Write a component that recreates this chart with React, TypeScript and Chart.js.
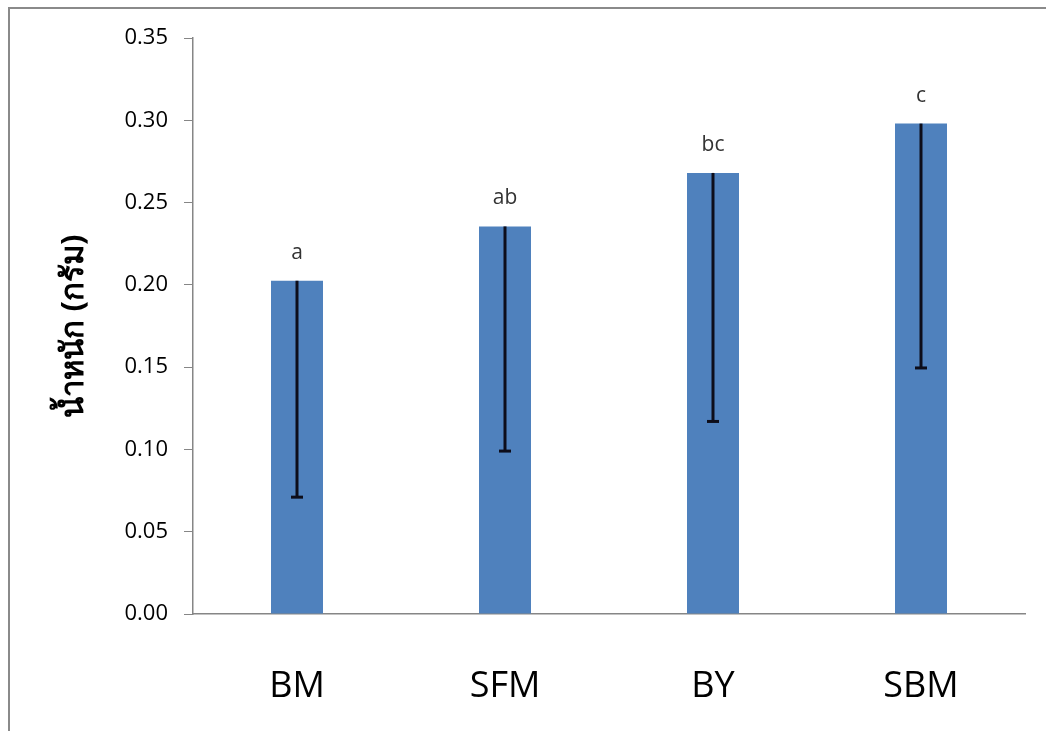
import React, { useEffect, useRef } from "react";
import { Chart, registerables } from "chart.js";

Chart.register(...registerables);

const categories = ["BM", "SFM", "BY", "SBM"];
const means = [0.2025, 0.2355, 0.268, 0.298];
const lowerBounds = [0.071, 0.099, 0.117, 0.1495];
const groupLetters = ["a", "ab", "bc", "c"];
const yTicks = [0, 0.05, 0.1, 0.15, 0.2, 0.25, 0.3, 0.35];
const yTitle = "น้ำหนัก (กรัม)";

const errorAndLetters = {
  id: "errorAndLetters",
  afterDatasetsDraw(chart: any) {
    const ctx = chart.ctx;
    const meta = chart.getDatasetMeta(0);
    const ys = chart.scales.y;
    ctx.save();
    meta.data.forEach((bar: any, i: number) => {
      const x = bar.x;
      const yTop = ys.getPixelForValue(means[i]);
      const yBot = ys.getPixelForValue(lowerBounds[i]);
      ctx.strokeStyle = "#0d0d1a";
      ctx.lineWidth = 3;
      ctx.beginPath();
      ctx.moveTo(x, yTop);
      ctx.lineTo(x, yBot);
      ctx.stroke();
      ctx.beginPath();
      ctx.moveTo(x - 6, yBot);
      ctx.lineTo(x + 6, yBot);
      ctx.stroke();
      ctx.fillStyle = "#333";
      ctx.font = "21px 'Open Sans'";
      ctx.textAlign = "center";
      ctx.textBaseline = "alphabetic";
      ctx.fillText(groupLetters[i], x, yTop - 22);
    });
    ctx.restore();
  },
};

export default function App() {
  const ref = useRef<HTMLCanvasElement | null>(null);
  useEffect(() => {
    if (!ref.current) return;
    const chart = new Chart(ref.current, {
      type: "bar",
      data: {
        labels: categories,
        datasets: [
          {
            data: means,
            backgroundColor: "#4F81BD",
            barPercentage: 0.25,
            categoryPercentage: 1,
          },
        ],
      },
      plugins: [errorAndLetters],
      options: {
        responsive: false,
        animation: false,
        layout: { padding: { left: 56, right: 21, top: 38, bottom: 0 } },
        plugins: { legend: { display: false }, tooltip: { enabled: false } },
        scales: {
          x: {
            grid: { display: true, drawOnChartArea: false, drawTicks: false },
            border: { display: true, color: "#868686", width: 1.5 },
            ticks: {
              font: { family: "'Open Sans'", size: 36 },
              color: "#000",
              padding: 51,
              maxRotation: 0,
            },
            afterFit(scale: any) {
              scale.height = 731 - 614;
            },
          },
          y: {
            min: 0,
            max: 0.35,
            afterBuildTicks(scale: any) {
              scale.ticks = yTicks.map((v) => ({ value: v }));
            },
            grid: {
              display: true,
              drawOnChartArea: false,
              drawTicks: true,
              tickLength: 9,
              color: "#868686",
            },
            border: { display: true, color: "#868686", width: 1.5 },
            ticks: {
              font: { family: "'Open Sans'", size: 22 },
              color: "#000",
              padding: 16,
              callback: (v: any) => Number(v).toFixed(2),
            },
            title: {
              display: true,
              text: yTitle,
              font: { family: "'Noto Sans', 'DejaVu Sans', sans-serif", size: 31, weight: "bold" },
              color: "#000",
              padding: 0,
            },
            afterFit(scale: any) {
              scale.width = 193 - 56;
            },
          },
        },
      },
    });
    return () => chart.destroy();
  }, []);
  return (
    <div style={{ position: "fixed", left: 0, top: 0, width: 1046, height: 731, background: "#fff" }}>
      <div
        style={{
          position: "absolute",
          left: 8,
          top: 7,
          width: 1040,
          height: 730,
          borderLeft: "2px solid #8a8a8a",
          borderTop: "2px solid #8a8a8a",
        }}
      />
      <canvas ref={ref} width={1046} height={731} style={{ position: "absolute", left: 0, top: 0 }} />
    </div>
  );
}
